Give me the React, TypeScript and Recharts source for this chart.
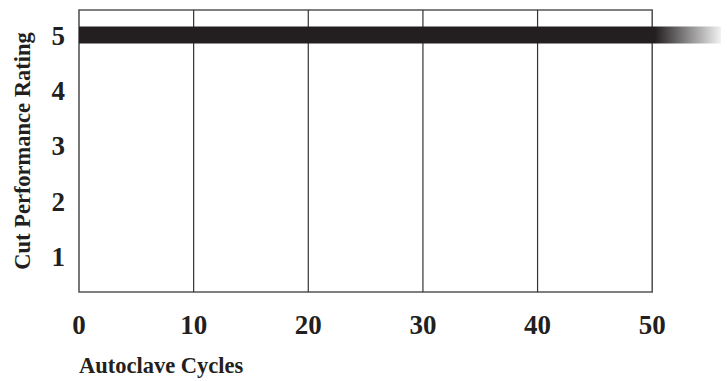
import { Label, Line, LineChart, ReferenceArea, ReferenceLine, XAxis, YAxis } from "recharts";

const INK = "#231f20";
const BOX = "#555555";
const FONT = "'Liberation Serif', 'Times New Roman', serif";

// Rating held across the autoclave runs; the bar fades out past the last tested cycle.
const cycles = [0, 56];
const rating = [5, 5];
const xTicks = [0, 10, 20, 30, 40, 50];
const yTicks = [1, 2, 3, 4, 5];
const gridX = [10, 20, 30, 40];

const rows = cycles.map((c, i) => ({ cycle: c, rating: rating[i] }));

const TICK = { fontSize: 27, fontWeight: 700, fill: INK, fontFamily: FONT };

export default function App() {
  return (
    <div style={{ position: "absolute", left: 0, top: 0, background: "#fff" }}>
      <LineChart width={727} height={381} data={rows} margin={{ top: 10, right: 6, bottom: 0, left: 0 }}>
        <defs>
          <linearGradient id="fade" gradientUnits="userSpaceOnUse" x1={655} y1={0} x2={721} y2={0}>
            <stop offset="0" stopColor={INK} />
            <stop offset="1" stopColor="#f2f2f2" />
          </linearGradient>
        </defs>
        <XAxis
          type="number"
          dataKey="cycle"
          domain={[0, 56]}
          ticks={xTicks}
          axisLine={false}
          tickLine={false}
          tickSize={0}
          tickMargin={23}
          height={89}
          tick={TICK}
        >
          <Label
            content={({ viewBox }: any) => (
              <text x={viewBox.x} y={viewBox.y + 81} fontSize={22.5} fontWeight={700} fill={INK} fontFamily={FONT}>
                Autoclave Cycles
              </text>
            )}
          />
        </XAxis>
        <YAxis
          type="number"
          domain={[0.36, 5.45]}
          ticks={yTicks}
          axisLine={false}
          tickLine={false}
          tickSize={0}
          tickMargin={14}
          width={79}
          tick={TICK}
        >
          <Label
            content={({ viewBox }: any) => {
              const cx = 22;
              const cy = viewBox.y + viewBox.height / 2;
              return (
                <text
                  x={cx}
                  y={cy}
                  transform={`rotate(-90 ${cx} ${cy})`}
                  textAnchor="middle"
                  dominantBaseline="central"
                  fontSize={22.5}
                  fontWeight={700}
                  fill={INK}
                  fontFamily={FONT}
                >
                  Cut Performance Rating
                </text>
              );
            }}
          />
        </YAxis>
        <ReferenceArea x1={0} x2={50} y1={0.36} y2={5.45} fill="none" stroke={BOX} strokeWidth={1.6} />
        {gridX.map((g) => (
          <ReferenceLine key={g} x={g} stroke="#333" strokeWidth={1.2} />
        ))}
        <Line
          type="linear"
          dataKey="rating"
          stroke="url(#fade)"
          strokeWidth={17}
          dot={false}
          activeDot={false}
          isAnimationActive={false}
        />
      </LineChart>
    </div>
  );
}
